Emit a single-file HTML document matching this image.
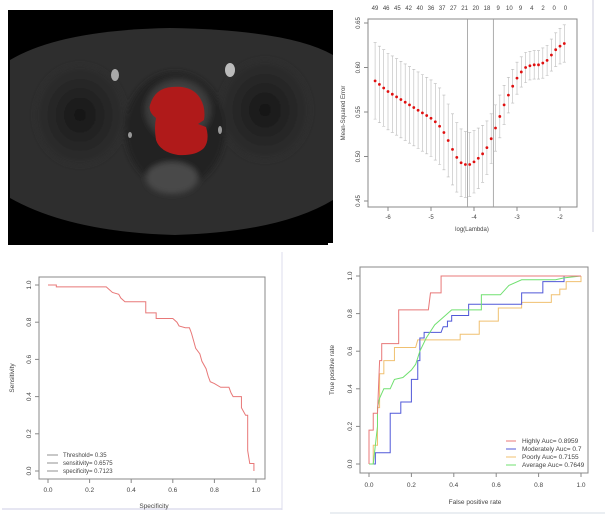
<!DOCTYPE html>
<html><head><meta charset="utf-8">
<style>
html,body{margin:0;padding:0;background:#fff;}
svg{display:block;font-family:"Liberation Sans",Arial,sans-serif;}
</style></head>
<body>
<svg id="fig" width="615" height="520" viewBox="0 0 615 520">
  <defs>
    <radialGradient id="gHip" cx="50%" cy="50%" r="50%">
      <stop offset="0" stop-color="#161616"/><stop offset="0.6" stop-color="#262626"/><stop offset="1" stop-color="#2e2e2e"/>
    </radialGradient>
    <radialGradient id="gBl" cx="50%" cy="50%" r="50%">
      <stop offset="0" stop-color="#666"/><stop offset="1" stop-color="#333"/>
    </radialGradient>
    <filter id="blur"><feGaussianBlur stdDeviation="3"/></filter>
  </defs>

  <!-- MRI panel -->
  <g>
    <rect x="8" y="10" width="325" height="235" fill="#000"/>
    <path d="M10,60 Q60,30 170,28 Q290,30 333,55 L333,200 Q280,232 175,235 Q70,232 10,198 Z" fill="#2e2e2e"/>
    <g filter="url(#blur)">
      <ellipse cx="80" cy="115" rx="45" ry="50" fill="url(#gHip)"/>
      <ellipse cx="265" cy="110" rx="45" ry="50" fill="url(#gHip)"/>
      <ellipse cx="175" cy="130" rx="50" ry="58" fill="#222"/>
      <ellipse cx="178" cy="110" rx="34" ry="32" fill="url(#gBl)"/>
      <ellipse cx="172" cy="178" rx="26" ry="16" fill="#484848"/>
    </g>
    <ellipse cx="115" cy="75" rx="4" ry="6" fill="#aaa"/>
    <ellipse cx="230" cy="70" rx="5" ry="7" fill="#bbb"/>
    <ellipse cx="130" cy="135" rx="2" ry="3" fill="#999"/>
    <ellipse cx="220" cy="130" rx="2" ry="4" fill="#999"/>
    <path d="M150,105 Q155,88 172,87 Q192,85 200,98 Q206,108 204,120 L198,124 L206,127 Q210,140 204,148 Q196,156 178,155 Q160,152 156,140 Q154,128 156,118 Q148,112 150,105Z" fill="#b01a1a"/>
    <rect x="328" y="243" width="7" height="4" fill="#fff"/>
  </g>

  <!-- panel borders -->
  <line x1="593" y1="0" x2="593" y2="232" stroke="#ccd" stroke-width="1"/>
  <line x1="282" y1="252" x2="282" y2="510" stroke="#dde" stroke-width="1"/>
  <line x1="2" y1="509" x2="282" y2="509" stroke="#dde" stroke-width="1.5"/>
  <line x1="330" y1="513" x2="605" y2="513" stroke="#e4e8ee" stroke-width="1.5"/>

  <g id="lasso"></g>
  <g id="roc1"></g>
  <g id="roc2"></g>
</svg>
<script>
// ---------- Lasso CV data ----------
const logLambda = [-6.3,-6.2,-6.1,-6.0,-5.9,-5.8,-5.7,-5.6,-5.5,-5.4,-5.3,-5.2,-5.1,-5.0,-4.9,-4.8,-4.7,-4.6,-4.5,-4.4,-4.3,-4.2,-4.1,-4.0,-3.9,-3.8,-3.7,-3.6,-3.5,-3.4,-3.3,-3.2,-3.1,-3.0,-2.9,-2.8,-2.7,-2.6,-2.5,-2.4,-2.3,-2.2,-2.1,-2.0,-1.9];
const mseValues = [0.585,0.581,0.577,0.573,0.570,0.567,0.564,0.561,0.558,0.555,0.552,0.549,0.546,0.543,0.539,0.534,0.527,0.518,0.508,0.499,0.493,0.491,0.491,0.494,0.498,0.503,0.510,0.520,0.532,0.545,0.558,0.569,0.579,0.588,0.595,0.600,0.602,0.603,0.603,0.605,0.608,0.614,0.620,0.624,0.627];
const mseSE = [0.043,0.043,0.043,0.043,0.043,0.043,0.043,0.043,0.043,0.043,0.043,0.043,0.043,0.043,0.043,0.043,0.042,0.041,0.040,0.039,0.038,0.037,0.036,0.035,0.034,0.032,0.030,0.028,0.026,0.024,0.022,0.020,0.019,0.018,0.017,0.017,0.016,0.016,0.016,0.017,0.017,0.018,0.019,0.020,0.021];
const lassoXTicks = [-6,-5,-4,-3,-2];
const lassoYTicks = [0.45,0.50,0.55,0.60,0.65];
const topCounts = ["49","46","45","42","40","36","37","27","21","20","18","9","10","9","4","2","0","0"];
const vLines = [-4.15,-3.55];

// ---------- Cutoff ROC data ----------
const specVals = [0,0.04,0.04,0.28,0.29,0.31,0.34,0.35,0.37,0.47,0.47,0.52,0.52,0.60,0.62,0.63,0.66,0.68,0.69,0.70,0.71,0.73,0.74,0.76,0.77,0.78,0.80,0.83,0.87,0.88,0.89,0.93,0.93,0.95,0.96,0.96,0.97,0.99,0.99];
const sensVals = [1,1,0.99,0.99,0.98,0.96,0.95,0.93,0.91,0.91,0.85,0.85,0.82,0.82,0.80,0.78,0.77,0.77,0.74,0.70,0.66,0.63,0.59,0.55,0.51,0.48,0.47,0.45,0.45,0.42,0.40,0.40,0.34,0.30,0.30,0.11,0.04,0.04,0.0];
const roc1Legend = ["Threshold= 0.35","sensitivity= 0.6575","specificity= 0.7123"];
const unitTicks = [0,0.2,0.4,0.6,0.8,1.0];

// ---------- Grade ROC data ----------
const highlyFPR = [0,0,0.02,0.02,0.04,0.05,0.06,0.06,0.14,0.14,0.28,0.29,0.34,0.34,1];
const highlyTPR = [0,0.18,0.18,0.27,0.27,0.55,0.55,0.64,0.64,0.82,0.82,0.91,0.91,1,1];
const modFPR = [0,0.03,0.03,0.1,0.1,0.15,0.15,0.2,0.2,0.23,0.23,0.24,0.24,0.26,0.26,0.34,0.35,0.37,0.37,0.39,0.39,0.47,0.47,0.72,0.72,0.82,0.82,0.92,0.92,1];
const modTPR = [0,0,0.06,0.06,0.27,0.27,0.33,0.33,0.45,0.45,0.55,0.55,0.67,0.67,0.70,0.70,0.73,0.73,0.76,0.76,0.79,0.79,0.85,0.85,0.91,0.91,0.97,0.97,1,1];
const poorFPR = [0,0.02,0.02,0.04,0.04,0.05,0.05,0.07,0.07,0.12,0.12,0.22,0.23,0.43,0.43,0.52,0.52,0.61,0.61,0.72,0.72,0.86,0.86,0.9,0.9,0.93,0.93,1,1];
const poorTPR = [0,0,0.1,0.1,0.3,0.3,0.48,0.48,0.55,0.55,0.62,0.62,0.66,0.66,0.69,0.69,0.76,0.76,0.83,0.83,0.86,0.86,0.9,0.9,0.93,0.93,0.97,0.97,1];
const avgFPR = [0,0.02,0.03,0.04,0.04,0.05,0.07,0.1,0.12,0.16,0.2,0.22,0.24,0.27,0.31,0.35,0.39,0.53,0.53,0.62,0.66,0.72,0.88,0.92,1];
const avgTPR = [0,0,0.1,0.2,0.3,0.35,0.4,0.4,0.45,0.46,0.5,0.53,0.6,0.67,0.74,0.78,0.82,0.82,0.9,0.9,0.95,0.98,0.98,0.99,1];
const roc2Legend = ["Highly Auc= 0.8959","Moderately Auc= 0.7","Poorly Auc= 0.7155","Average Auc= 0.7649"];
const roc2Colors = ["#e87878","#5058d8","#f0c070","#70e070"];

const NS = "http://www.w3.org/2000/svg";
function mk(parent, tag, attrs, text){
  const e = document.createElementNS(NS, tag);
  for (const k in attrs) e.setAttribute(k, attrs[k]);
  if (text !== undefined) e.textContent = text;
  parent.appendChild(e);
  return e;
}
function lin(d0,d1,r0,r1){ return v => r0 + (v-d0)*(r1-r0)/(d1-d0); }

// ===== Lasso =====
(function(){
  const g = document.getElementById('lasso');
  const x = lin(-6,-2,388,560), y = lin(0.45,0.65,201,23);
  const box = mk(g,'rect',{x:368,y:19,width:209,height:188,fill:'none',stroke:'#888','stroke-width':1});
  
  
  lassoXTicks.forEach(t=>{
    mk(g,'line',{x1:x(t),y1:207,x2:x(t),y2:211,stroke:'#888'});
    const tx = mk(g,'text',{x:x(t),y:219,'font-size':6,'text-anchor':'middle',fill:'#444'},String(t));
    
    
  });
  lassoYTicks.forEach(t=>{
    mk(g,'line',{x1:364,y1:y(t),x2:368,y2:y(t),stroke:'#888'});
    const tx = mk(g,'text',{x:360,y:y(t),'font-size':6,'text-anchor':'middle',fill:'#444',transform:`rotate(-90 360 ${y(t)})`},t.toFixed(2));
    
    
  });
  topCounts.forEach((c,i)=>{
    const tx = mk(g,'text',{x:375+i*11.2,y:10,'font-size':6,'text-anchor':'middle',fill:'#444'},c);
    
    
  });
  vLines.forEach(v=>{
    const l = mk(g,'line',{x1:x(v),y1:19,x2:x(v),y2:207,stroke:'#999','stroke-width':0.8});
    
    
  });
  logLambda.forEach((lv,i)=>{
    const xx = x(lv), up = y(mseValues[i]+mseSE[i]), lo = y(mseValues[i]-mseSE[i]);
    const eb = mk(g,'path',{d:`M${xx},${up}V${lo}M${xx-1.5},${up}H${xx+1.5}M${xx-1.5},${lo}H${xx+1.5}`,stroke:'#bbb','stroke-width':0.6,fill:'none'});
    
    
  });
  logLambda.forEach((lv,i)=>{
    const c = mk(g,'circle',{cx:x(lv),cy:y(mseValues[i]),r:1.4,fill:'#e01010'});
    
    
  });
  const xl = mk(g,'text',{x:472,y:231,'font-size':6,'text-anchor':'middle',fill:'#444'},'log(Lambda)');
  
  
  const yl = mk(g,'text',{x:345,y:113,'font-size':6,'text-anchor':'middle',fill:'#444',transform:'rotate(-90 345 113)'},'Mean-Squared Error');
  
  
})();

// ===== Cutoff ROC =====
(function(){
  const g = document.getElementById('roc1');
  const x = lin(0,1,48,256), y = lin(0,1,471,285);
  const box = mk(g,'rect',{x:39,y:277,width:226,height:202,fill:'none',stroke:'#888','stroke-width':1});
  
  
  unitTicks.forEach(t=>{
    mk(g,'line',{x1:x(t),y1:479,x2:x(t),y2:483,stroke:'#888'});
    const tx = mk(g,'text',{x:x(t),y:492,'font-size':6.5,'text-anchor':'middle',fill:'#444'},t.toFixed(1));
    
    
    mk(g,'line',{x1:35,y1:y(t),x2:39,y2:y(t),stroke:'#888'});
    const ty = mk(g,'text',{x:31,y:y(t),'font-size':6.5,'text-anchor':'middle',fill:'#444',transform:`rotate(-90 31 ${y(t)})`},t.toFixed(1));
    
    
  });
  const pts = specVals.map((s,i)=>`${x(s)},${y(sensVals[i])}`).join(' ');
  const pl = mk(g,'polyline',{points:pts,fill:'none',stroke:'#e87878','stroke-width':1});
  
  
  roc1Legend.forEach((t,i)=>{
    const yy = 455+i*8;
    mk(g,'line',{x1:47,y1:yy,x2:58,y2:yy,stroke:'#777','stroke-width':0.8});
    const tx = mk(g,'text',{x:63,y:yy+2,'font-size':6,fill:'#444'},t);
    
    
  });
  const xl = mk(g,'text',{x:154,y:508,'font-size':6.5,'text-anchor':'middle',fill:'#444'},'Specificity');
  
  
  const yl = mk(g,'text',{x:14,y:378,'font-size':6.5,'text-anchor':'middle',fill:'#444',transform:'rotate(-90 14 378)'},'Sensitivity');
  
  
})();

// ===== Grade ROC =====
(function(){
  const g = document.getElementById('roc2');
  const x = lin(0,1,369,581), y = lin(0,1,464,276);
  const box = mk(g,'rect',{x:360,y:267,width:228,height:206,fill:'none',stroke:'#888','stroke-width':1});
  
  
  unitTicks.forEach(t=>{
    mk(g,'line',{x1:x(t),y1:473,x2:x(t),y2:477,stroke:'#888'});
    const tx = mk(g,'text',{x:x(t),y:487,'font-size':6.5,'text-anchor':'middle',fill:'#444'},t.toFixed(1));
    
    
    mk(g,'line',{x1:356,y1:y(t),x2:360,y2:y(t),stroke:'#888'});
    const ty = mk(g,'text',{x:352,y:y(t),'font-size':6.5,'text-anchor':'middle',fill:'#444',transform:`rotate(-90 352 ${y(t)})`},t.toFixed(1));
    
    
  });
  const series = [[highlyFPR,highlyTPR,'highly-roc-curve'],[modFPR,modTPR,'moderately-roc-curve'],[poorFPR,poorTPR,'poorly-roc-curve'],[avgFPR,avgTPR,'average-roc-curve']];
  [2,1,3,0].forEach(k=>{
    const s = series[k];
    const pts = s[0].map((v,i)=>`${x(v)},${y(s[1][i])}`).join(' ');
    const pl = mk(g,'polyline',{points:pts,fill:'none',stroke:roc2Colors[k],'stroke-width':1});
    
    
  });
  roc2Legend.forEach((t,i)=>{
    const yy = 441+i*8;
    mk(g,'line',{x1:506,y1:yy,x2:516,y2:yy,stroke:roc2Colors[i],'stroke-width':1});
    const tx = mk(g,'text',{x:522,y:yy+2.2,'font-size':6.5,fill:'#444'},t);
    
    
  });
  const xl = mk(g,'text',{x:475,y:504,'font-size':6.5,'text-anchor':'middle',fill:'#444'},'False positive rate');
  
  
  const yl = mk(g,'text',{x:334,y:370,'font-size':6.5,'text-anchor':'middle',fill:'#444',transform:'rotate(-90 334 370)'},'True positive rate');
  
  
})();
</script>
</body></html>
